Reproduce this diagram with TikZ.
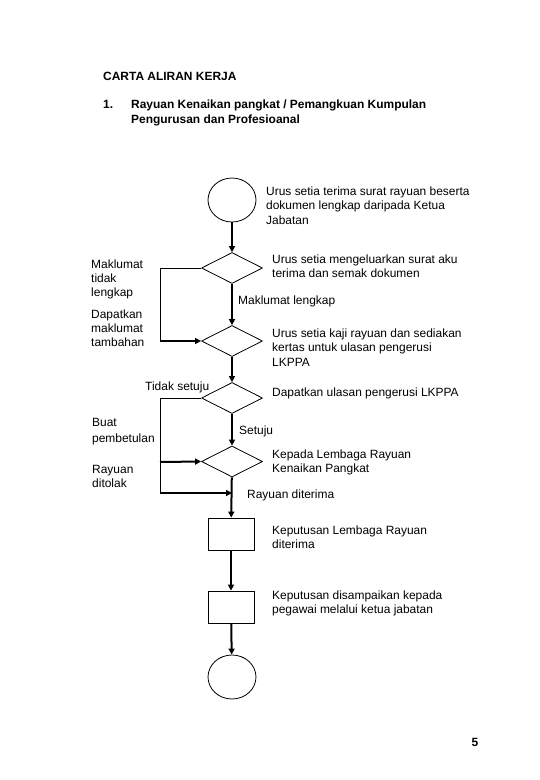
\documentclass[tikz,border=0pt]{standalone}
\usepackage{fontspec}
\setmainfont{Liberation Sans}
\usetikzlibrary{arrows.meta, shapes.geometric}

\begin{document}
\begin{tikzpicture}[x=1bp, y=-1bp,
  font=\fontsize{12}{14.8}\selectfont,
  terminal/.style={draw, line width=0.8bp, ellipse, minimum width=48bp, minimum height=44bp, inner sep=0pt},
  decision/.style={draw, line width=0.8bp, diamond, minimum width=61bp, minimum height=31bp, inner sep=0pt},
  process/.style={draw, line width=0.8bp, rectangle, minimum width=46bp, minimum height=32bp, inner sep=0pt},
  note/.style={anchor=north west, align=left, inner sep=0pt},
  headline/.style={anchor=base west, inner sep=0pt, font=\fontsize{12}{14.8}\selectfont\bfseries},
  flow/.style={line width=2bp, -{Triangle[length=6bp, width=6bp]}},
  backline/.style={line width=1bp}]
  \useasboundingbox (0,0) rectangle (540,780);

  % ---- tajuk ----
  \node[headline] (title) at (103,80.5) {CARTA ALIRAN KERJA};
  \node[headline] (num) at (103,108.5) {1.};
  \node[headline] (head) at (131,108.5) {Rayuan Kenaikan pangkat / Pemangkuan Kumpulan};
  \node[headline] (head2) at (131,123.3) {Pengurusan dan Profesioanal};

  % ---- simbol carta ----
  \node[terminal] (start) at (232,200) {};
  \node[decision] (d1) at (232,268) {};
  \node[decision] (d2) at (232,341) {};
  \node[decision] (d3) at (232,398) {};
  \node[decision] (d4) at (232,461.5) {};
  \node[process] (p1) at (231,534) {};
  \node[process] (p2) at (231,607) {};
  \node[terminal] (stop) at (232,677) {};

  % ---- aliran utama ----
  \coordinate (join) at (232,493);
  \draw[flow] (start) -- (d1);
  \draw[flow] (d1) -- (d2);
  \draw[flow] (d2) -- (d3);
  \draw[flow] (d3) -- (d4);
  \draw[flow] (d4) -- (p1);
  \draw[flow] (p1) -- (p2);
  \draw[flow] (p2) -- (stop);

  % ---- maklumat tidak lengkap ----
  \coordinate (k1) at (160,268);
  \coordinate (k2) at (160,341);
  \draw[backline] (d1.west) -- (k1) -- (k2);
  \draw[flow] (k2) -- (d2.west);

  % ---- tidak setuju ----
  \coordinate (k3) at (160,398);
  \coordinate (k4) at (160,462);
  \coordinate (k5) at (160,493);
  \draw[backline] (d3.west) -- (k3) -- (k5);
  \draw[flow] (k4) -- (d4.west);
  \draw[flow] (k5) -- (join);

  % ---- keterangan ----
  \node[note] (t1) at (266,186.3) {Urus setia terima surat rayuan beserta\\dokumen lengkap daripada Ketua\\Jabatan};
  \node[note] (t2) at (272,254.3) {Urus setia mengeluarkan surat aku\\terima dan semak dokumen};
  \node[note, font=\fontsize{12}{14}\selectfont] (t3) at (91,259.3) {Maklumat\\tidak\\lengkap};
  \node[note, font=\fontsize{12}{14}\selectfont] (t4) at (91,309.3) {Dapatkan\\maklumat\\tambahan};
  \node[note] (t5) at (238,295.3) {Maklumat lengkap};
  \node[note] (t6) at (272,328.3) {Urus setia kaji rayuan dan sediakan\\kertas untuk ulasan pengerusi\\LKPPA};
  \node[note] (t7) at (145,381.3) {Tidak setuju};
  \node[note] (t8) at (272,387.3) {Dapatkan ulasan pengerusi LKPPA};
  \node[note] (t9) at (239,425.3) {Setuju};
  \node[note, font=\fontsize{12}{16}\selectfont] (t10) at (92,418.3) {Buat\\pembetulan};
  \node[note] (t11) at (272,449.3) {Kepada Lembaga Rayuan\\Kenaikan Pangkat};
  \node[note, font=\fontsize{12}{13.5}\selectfont] (t12) at (92,465.3) {Rayuan\\ditolak};
  \node[note] (t13) at (247,489.3) {Rayuan diterima};
  \node[note] (t14) at (272,525.3) {Keputusan Lembaga Rayuan\\diterima};
  \node[note] (t15) at (272,590.3) {Keputusan disampaikan kepada\\pegawai melalui ketua jabatan};

  % ---- nombor muka ----
  \node[font=\fontsize{12}{14.8}\selectfont\bfseries, inner sep=0pt] (page) at (475,742) {5};
\end{tikzpicture}
\end{document}
